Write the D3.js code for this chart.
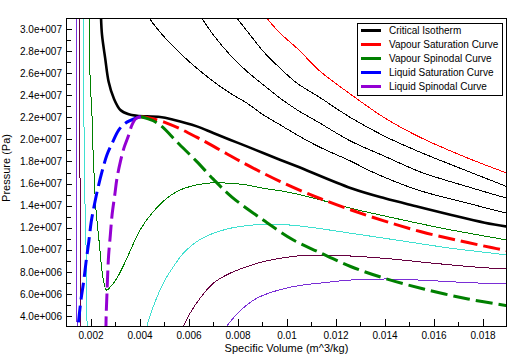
<!DOCTYPE html>
<html>
<head>
<meta charset="utf-8">
<script src="https://cdn.jsdelivr.net/npm/d3@7"></script>
<style>
body { margin: 0; background: #fff; }
text { font-family: "Liberation Sans", Arial, sans-serif; }
</style>
</head>
<body>
<div id="c"></div>
<script>
"use strict";

// every curve is a list of [specific volume (m^3/kg), pressure (Pa)]

// isotherms above the critical one, hottest first
const isoHot = [[0.00919,31.0e6],[0.00973,29.64e6],[0.01042,28.28e6],[0.01096,27.07e6],[0.01137,26.17e6],
    [0.01264,24.05e6],[0.01401,21.94e6],[0.01537,20.28e6],[0.01673,18.92e6],[0.01809,17.70e6],[0.01900,16.95e6]]
const isoC = [[0.00797,31.0e6],[0.00851,29.48e6],[0.00905,27.98e6],[0.00973,26.47e6],[0.01042,25.11e6],
    [0.01129,23.90e6],[0.01264,21.94e6],[0.01401,20.28e6],[0.01537,18.92e6],[0.01673,17.70e6],[0.01901,15.71e6]]
const isoB = [[0.00654,31.0e6],[0.00701,29.48e6],[0.00769,27.67e6],[0.00838,26.17e6],[0.00905,24.95e6],
    [0.00973,23.75e6],[0.01042,22.69e6],[0.01129,21.57e6],[0.01264,19.82e6],[0.01401,18.47e6],
    [0.01550,17.02e6],[0.01729,15.78e6],[0.01901,14.66e6]]
const isoA = [[0.00439,31.0e6],[0.00470,30.09e6],[0.00524,28.73e6],[0.00579,27.53e6],[0.00633,26.47e6],
    [0.00701,25.26e6],[0.00769,24.20e6],[0.00838,23.29e6],[0.00905,22.23e6],[0.00973,21.33e6],
    [0.01042,20.42e6],[0.01129,19.37e6],[0.01264,18.01e6],[0.01353,17.02e6],[0.01537,15.41e6],
    [0.01741,14.21e6],[0.01901,13.30e6]]

const criticalIso = [[0.00243,31.0e6],[0.00247,29.46e6],[0.00260,27.34e6],[0.00274,25.22e6],[0.00295,23.72e6],
    [0.00322,22.66e6],[0.00356,22.27e6],[0.00390,22.14e6],[0.00484,22.03e6],[0.00538,21.78e6],
    [0.00634,21.18e6],[0.00701,20.58e6],[0.00769,19.97e6],[0.00838,19.37e6],[0.00905,18.76e6],
    [0.00973,18.16e6],[0.01042,17.56e6],[0.01264,15.57e6],[0.01401,14.66e6],[0.01537,13.90e6],
    [0.01673,13.15e6],[0.01809,12.45e6],[0.01901,12.09e6]]

// isotherms below the critical one (left liquid branch / right vapour branch)
const isoGreen = [[0.00194,31.0e6],[0.00195,28.25e6],[0.00199,25.22e6],[0.00206,22.21e6],[0.00210,19.19e6],
    [0.00216,16.16e6],[0.00222,13.75e6],[0.00231,11.63e6],[0.00238,10.13e6],[0.00244,8.62e6],
    [0.00254,7.10e6],[0.00265,6.35e6],[0.00288,6.81e6],[0.00315,7.71e6],[0.00342,8.92e6],
    [0.00369,10.25e6],[0.00402,11.79e6],[0.00456,13.45e6],[0.00511,14.66e6],[0.00565,15.41e6],
    [0.00633,15.87e6],[0.00701,16.07e6],[0.00769,16.02e6],[0.00838,15.87e6],[0.00905,15.57e6],
    [0.00973,15.35e6],[0.01042,15.05e6],[0.01133,14.55e6],[0.01264,13.75e6],[0.01401,13.06e6],
    [0.01537,12.40e6],[0.01673,11.79e6],[0.01809,11.24e6],[0.01901,10.88e6]]
const isoCyanL = [[0.00172,31.0e6],[0.00173,22.21e6],[0.00176,16.16e6],[0.00179,12.54e6],[0.00182,10.13e6],
    [0.00184,7.10e6],[0.00186,3.0e6]]
const isoCyanR = [[0.00429,3.0e6],[0.00456,4.84e6],[0.00497,6.96e6],[0.00538,8.46e6],[0.00579,9.68e6],
    [0.00633,10.73e6],[0.00701,11.49e6],[0.00769,11.94e6],[0.00838,12.18e6],[0.00905,12.30e6],
    [0.00973,12.30e6],[0.01042,12.18e6],[0.01129,11.94e6],[0.01264,11.49e6],[0.01401,11.04e6],
    [0.01537,10.58e6],[0.01673,10.13e6],[0.01809,9.77e6],[0.01901,9.52e6]]
const isoMaroonL = [[0.00155,31.0e6],[0.00156,22.21e6],[0.00158,13.15e6],[0.00160,7.10e6],[0.00161,3.0e6]]
const isoMaroonR = [[0.00578,3.0e6],[0.00606,4.24e6],[0.00647,5.60e6],[0.00701,6.96e6],[0.00769,7.87e6],
    [0.00838,8.46e6],[0.00905,8.92e6],[0.00973,9.22e6],[0.01042,9.43e6],[0.01129,9.52e6],
    [0.01264,9.43e6],[0.01401,9.22e6],[0.01537,8.92e6],[0.01673,8.62e6],[0.01809,8.37e6],[0.01901,8.25e6]]
const isoVioletL = [[0.00141,31.0e6],[0.00143,17.2e6],[0.00145,3.0e6]]
const isoVioletR = [[0.00753,3.0e6],[0.00810,4.45e6],[0.00878,5.60e6],[0.00946,6.20e6],[0.01014,6.60e6],
    [0.01069,6.81e6],[0.01129,6.96e6],[0.01264,7.26e6],[0.01401,7.35e6],[0.01537,7.26e6],
    [0.01673,7.10e6],[0.01809,6.96e6],[0.01901,6.90e6]]

// saturation and spinodal curves, all leaving from the critical point
const vapourSat = [[0.00405,22.05e6],[0.00450,21.90e6],[0.00511,21.48e6],[0.00565,20.97e6],[0.00633,20.20e6],
    [0.00688,19.55e6],[0.00756,18.70e6],[0.00810,18.03e6],[0.00892,17.08e6],[0.00973,16.20e6],
    [0.01069,15.25e6],[0.01142,14.60e6],[0.01264,13.60e6],[0.01401,12.60e6],[0.01550,11.63e6],
    [0.01700,10.85e6],[0.01836,10.20e6],[0.01901,9.91e6]]
const vapourSpin = [[0.00405,22.05e6],[0.00456,21.69e6],[0.00491,21.18e6],[0.00555,19.72e6],[0.00633,18.01e6],
    [0.00701,16.40e6],[0.00776,14.80e6],[0.00905,12.69e6],[0.01028,10.88e6],[0.01129,9.82e6],
    [0.01264,8.46e6],[0.01401,7.41e6],[0.01564,6.42e6],[0.01741,5.54e6],[0.01901,4.93e6]]
const liquidSat = [[0.00405,22.05e6],[0.00390,21.96e6],[0.00342,21.46e6],[0.00315,20.85e6],[0.00288,19.64e6],
    [0.00267,18.58e6],[0.00247,17.07e6],[0.00227,15.26e6],[0.00213,13.75e6],[0.00203,12.54e6],
    [0.00193,10.73e6],[0.00182,8.92e6],[0.00172,7.10e6],[0.00162,5.60e6],[0.00154,4.09e6],[0.00149,3.0e6]]
const liquidSpin = [[0.00405,22.05e6],[0.00386,21.91e6],[0.00369,21.30e6],[0.00356,20.40e6],[0.00336,19.19e6],
    [0.00322,17.98e6],[0.00308,16.47e6],[0.00299,14.96e6],[0.00288,13.15e6],[0.00281,11.34e6],
    [0.00274,9.52e6],[0.00270,7.71e6],[0.00267,5.90e6],[0.00264,4.09e6],[0.00263,3.0e6]]

const legendNames = ["Critical Isotherm", "Vapour Saturation Curve", "Vapour Spinodal Curve",
    "Liquid Saturation Curve", "Liquid Spinodal Curve"]

const xTicks = [0.002, 0.004, 0.006, 0.008, 0.010, 0.012, 0.014, 0.016, 0.018]
const xTickLabels = ["0.002", "0.004", "0.006", "0.008", "0.01", "0.012", "0.014", "0.016", "0.018"]
const yTicks = [4e6, 6e6, 8e6, 10e6, 12e6, 14e6, 16e6, 18e6, 20e6, 22e6, 24e6, 26e6, 28e6, 30e6]
const yTickLabels = ["4.0e+006", "6.0e+006", "8.0e+006", "1.0e+007", "1.2e+007", "1.4e+007", "1.6e+007",
    "1.8e+007", "2.0e+007", "2.2e+007", "2.4e+007", "2.6e+007", "2.8e+007", "3.0e+007"]

const W = 532, H = 364
const margin = {top: 18, right: 25, bottom: 37, left: 66}

let svg = d3.select('#c').append('svg').attr('width', W).attr('height', H)

let x = d3.scaleLinear().domain([0.001, 0.019]).range([margin.left, W - margin.right])
let y = d3.scaleLinear().domain([3e6, 3.1e7]).range([H - margin.bottom, margin.top])

svg.append('clipPath').attr('id', 'plot')
    .append('rect')
    .attr('x', margin.left).attr('y', margin.top)
    .attr('width', W - margin.left - margin.right)
    .attr('height', H - margin.top - margin.bottom)

// axes, ticks pointing into the plot
function styleAxis(g) {
    g.select('.domain').remove()
    g.selectAll('line').attr('stroke', '#000').attr('shape-rendering', 'crispEdges')
    g.selectAll('text').attr('fill', '#000')
        .style('font-family', '"Liberation Sans", Arial, sans-serif').style('font-size', '10px')
}

svg.append('g').attr('transform', 'translate(0,' + (H - margin.bottom) + ')')
    .call(d3.axisBottom(x).tickValues(d3.range(0.003, 0.0185, 0.002)).tickSize(-5).tickFormat(''))
    .call(styleAxis)
svg.append('g').attr('transform', 'translate(0,' + (H - margin.bottom) + ')')
    .call(d3.axisBottom(x).tickValues(xTicks).tickSize(-8).tickPadding(5)
        .tickFormat(d => xTickLabels[xTicks.indexOf(d)]))
    .call(styleAxis)

svg.append('g').attr('transform', 'translate(' + margin.left + ',0)')
    .call(d3.axisLeft(y).tickValues(d3.range(5e6, 3e7, 2e6)).tickSize(-5).tickFormat(''))
    .call(styleAxis)
svg.append('g').attr('transform', 'translate(' + margin.left + ',0)')
    .call(d3.axisLeft(y).tickValues(yTicks).tickSize(-6).tickPadding(4)
        .tickFormat(d => yTickLabels[yTicks.indexOf(d)]))
    .call(styleAxis)

svg.append('text')
    .attr('x', (margin.left + W - margin.right) / 2).attr('y', 352)
    .attr('text-anchor', 'middle').style('font-size', '11px')
    .text('Specific Volume (m^3/kg)')
svg.append('text')
    .attr('transform', 'translate(10,168) rotate(-90)')
    .attr('text-anchor', 'middle').style('font-size', '11px')
    .text('Pressure (Pa)')

// curves
let line = d3.line()
    .x(d => x(d[0]))
    .y(d => y(d[1]))
    .curve(d3.curveCatmullRom.alpha(0.5))

let plot = svg.append('g').attr('clip-path', 'url(#plot)')

const curves = [
    {pts: isoVioletL, color: '#7a2ed6', w: 1},
    {pts: isoVioletR, color: '#7a2ed6', w: 1},
    {pts: isoMaroonL, color: '#660040', w: 1},
    {pts: isoMaroonR, color: '#660040', w: 1},
    {pts: isoCyanL, color: '#40e0d0', w: 1},
    {pts: isoCyanR, color: '#40e0d0', w: 1},
    {pts: isoGreen, color: '#008000', w: 1},
    {pts: isoA, color: '#000', w: 1},
    {pts: isoB, color: '#000', w: 1},
    {pts: isoC, color: '#000', w: 1},
    {pts: isoHot, color: '#ff0000', w: 1},
    {pts: criticalIso, color: '#000', w: 2.6},
    {pts: vapourSat, color: '#ff0000', w: 3, dash: '17,6'},
    {pts: vapourSpin, color: '#008000', w: 3, dash: '17,6'},
    {pts: liquidSat, color: '#0000ff', w: 3, dash: '17,6'},
    {pts: liquidSpin, color: '#9400d3', w: 3, dash: '17,6'}
]

curves.forEach(c => {
    plot.append('path')
        .datum(c.pts)
        .attr('fill', 'none')
        .attr('stroke', c.color)
        .attr('stroke-width', c.w)
        .attr('stroke-dasharray', c.dash || null)
        .attr('shape-rendering', c.w == 1 ? 'crispEdges' : null)
        .attr('d', line)
})

// frame
svg.append('rect')
    .attr('x', margin.left + 0.5).attr('y', margin.top + 0.5)
    .attr('width', W - margin.left - margin.right - 1)
    .attr('height', H - margin.top - margin.bottom - 1)
    .attr('fill', 'none').attr('stroke', '#000')
    .attr('shape-rendering', 'crispEdges')

// legend
const legendColors = ['#000', '#ff0000', '#008000', '#0000ff', '#9400d3']
let legend = svg.append('g').attr('transform', 'translate(357,23)')
legend.append('rect')
    .attr('x', 0.5).attr('y', 0.5).attr('width', 145).attr('height', 72)
    .attr('fill', '#fff').attr('stroke', '#000').attr('shape-rendering', 'crispEdges')
legendNames.forEach((name, i) => {
    let g = legend.append('g').attr('transform', 'translate(0,' + (7.5 + i * 14) + ')')
    g.append('line')
        .attr('x1', 4).attr('x2', 24).attr('y1', 0).attr('y2', 0)
        .attr('stroke', legendColors[i]).attr('stroke-width', 3)
    g.append('text')
        .attr('x', 32).attr('y', 0).attr('dy', '0.35em')
        .style('font-size', '10px')
        .text(name)
})
</script>
</body>
</html>
